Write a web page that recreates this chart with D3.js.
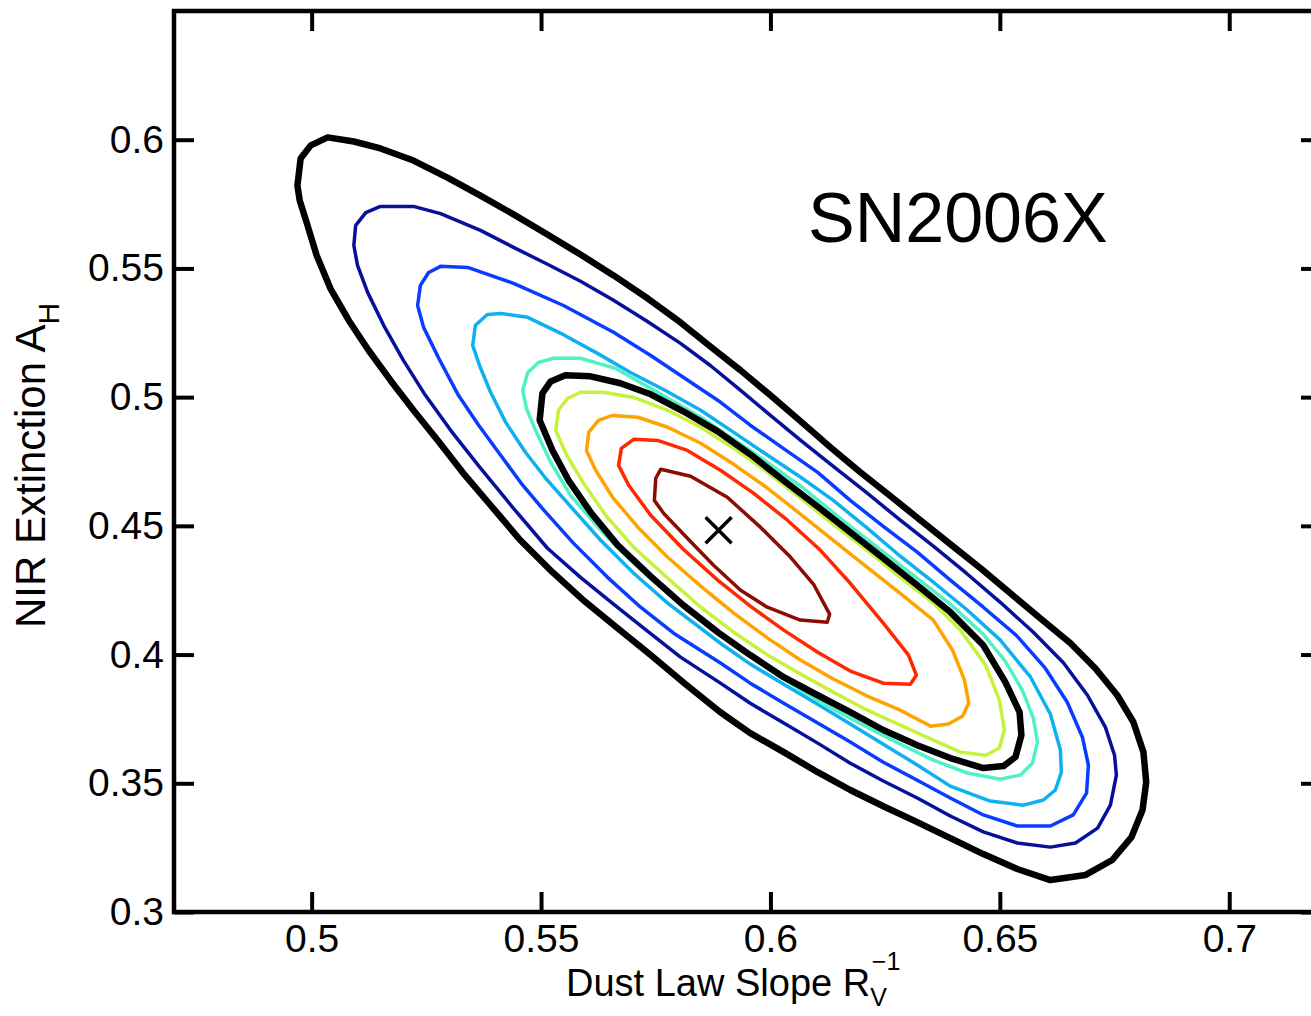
<!DOCTYPE html>
<html>
<head>
<meta charset="utf-8">
<script src="https://cdn.jsdelivr.net/npm/d3@7"></script>
<style>
  html, body { margin: 0; padding: 0; background: #fff; }
  svg text { font-family: "Liberation Sans", Arial, Helvetica, sans-serif; fill: #000; }
</style>
</head>
<body>
<svg id="chart" width="1311" height="1016"></svg>
<script>
// ---- ticks ----
const xTicks = [0.5, 0.55, 0.6, 0.65, 0.7];
const yTicks = [0.3, 0.35, 0.4, 0.45, 0.5, 0.55, 0.6];

// ---- best fit (cross) ----
const bestFit = [0.5887, 0.4483];

// ---- contour levels [R_V^-1, A_H], outer -> inner ----
const blackOuter = [
  [0.4969,0.5822],[0.4976,0.5927],[0.4998,0.5978],[0.5035,0.6009],[0.5092,0.5993],[0.5150,0.5966],
  [0.5222,0.5919],[0.5296,0.5853],[0.5368,0.5783],[0.5440,0.5710],[0.5514,0.5632],[0.5586,0.5554],
  [0.5658,0.5473],[0.5732,0.5384],[0.5804,0.5290],[0.5869,0.5197],[0.5935,0.5104],[0.6000,0.5007],
  [0.6066,0.4906],[0.6131,0.4805],[0.6196,0.4708],[0.6262,0.4615],[0.6327,0.4522],[0.6392,0.4429],
  [0.6458,0.4335],[0.6523,0.4238],[0.6588,0.4141],[0.6654,0.4044],[0.6708,0.3947],[0.6756,0.3842],
  [0.6791,0.3738],[0.6813,0.3621],[0.6819,0.3505],[0.6811,0.3396],[0.6787,0.3291],[0.6745,0.3202],
  [0.6687,0.3144],[0.6610,0.3124],[0.6538,0.3167],[0.6464,0.3225],[0.6392,0.3287],[0.6320,0.3349],
  [0.6246,0.3411],[0.6174,0.3474],[0.6103,0.3543],[0.6029,0.3621],[0.5956,0.3695],[0.5891,0.3776],
  [0.5815,0.3885],[0.5739,0.3998],[0.5667,0.4102],[0.5595,0.4207],[0.5525,0.4320],[0.5455,0.4444],
  [0.5390,0.4580],[0.5329,0.4708],[0.5275,0.4832],[0.5222,0.4949],[0.5172,0.5065],[0.5124,0.5182],
  [0.5081,0.5298],[0.5041,0.5422],[0.5011,0.5550],[0.4989,0.5679],[0.4974,0.5764]
];
const navyLevel = [
  [0.5092,0.5589],[0.5096,0.5667],[0.5118,0.5717],[0.5150,0.5741],[0.5222,0.5741],[0.5281,0.5713],
  [0.5368,0.5648],[0.5440,0.5582],[0.5514,0.5516],[0.5586,0.5450],[0.5658,0.5376],[0.5732,0.5294],
  [0.5804,0.5209],[0.5869,0.5123],[0.5935,0.5026],[0.6000,0.4929],[0.6066,0.4832],[0.6137,0.4731],
  [0.6211,0.4627],[0.6283,0.4522],[0.6355,0.4421],[0.6427,0.4316],[0.6501,0.4203],[0.6573,0.4087],
  [0.6639,0.3967],[0.6691,0.3842],[0.6730,0.3718],[0.6750,0.3609],[0.6754,0.3532],[0.6741,0.3415],
  [0.6713,0.3326],[0.6665,0.3268],[0.6610,0.3252],[0.6538,0.3268],[0.6464,0.3311],[0.6392,0.3373],
  [0.6320,0.3443],[0.6246,0.3509],[0.6174,0.3578],[0.6103,0.3656],[0.6029,0.3734],[0.5956,0.3811],
  [0.5891,0.3889],[0.5804,0.3990],[0.5732,0.4091],[0.5658,0.4196],[0.5586,0.4300],[0.5514,0.4413],
  [0.5440,0.4568],[0.5368,0.4724],[0.5303,0.4871],[0.5248,0.5007],[0.5200,0.5143],[0.5157,0.5279],
  [0.5122,0.5407],[0.5100,0.5512]
];
const blueLevel = [
  [0.5231,0.5356],[0.5237,0.5434],[0.5255,0.5484],[0.5281,0.5508],[0.5340,0.5504],[0.5440,0.5442],
  [0.5549,0.5356],[0.5658,0.5252],[0.5739,0.5162],[0.5810,0.5077],[0.5885,0.4988],[0.5956,0.4891],
  [0.6028,0.4801],[0.6103,0.4708],[0.6174,0.4599],[0.6246,0.4498],[0.6320,0.4398],[0.6392,0.4289],
  [0.6464,0.4184],[0.6538,0.4071],[0.6599,0.3947],[0.6647,0.3815],[0.6680,0.3679],[0.6693,0.3571],
  [0.6689,0.3462],[0.6660,0.3377],[0.6610,0.3334],[0.6538,0.3334],[0.6464,0.3377],[0.6392,0.3443],
  [0.6320,0.3512],[0.6246,0.3582],[0.6174,0.3660],[0.6103,0.3734],[0.6029,0.3811],[0.5956,0.3889],
  [0.5891,0.3967],[0.5789,0.4083],[0.5717,0.4184],[0.5645,0.4300],[0.5571,0.4432],[0.5506,0.4561],
  [0.5460,0.4658],[0.5412,0.4774],[0.5364,0.4891],[0.5320,0.5007],[0.5277,0.5151],[0.5244,0.5271]
];
const skyLevel = [
  [0.5351,0.5201],[0.5357,0.5279],[0.5383,0.5321],[0.5412,0.5325],[0.5471,0.5310],[0.5543,0.5248],
  [0.5623,0.5170],[0.5695,0.5096],[0.5771,0.5026],[0.5848,0.4949],[0.5920,0.4863],[0.5994,0.4774],
  [0.6066,0.4689],[0.6137,0.4599],[0.6211,0.4491],[0.6283,0.4382],[0.6355,0.4281],[0.6427,0.4176],
  [0.6501,0.4056],[0.6567,0.3912],[0.6610,0.3769],[0.6632,0.3629],[0.6634,0.3543],[0.6621,0.3474],
  [0.6595,0.3435],[0.6551,0.3415],[0.6479,0.3431],[0.6392,0.3489],[0.6320,0.3571],[0.6246,0.3652],
  [0.6174,0.3730],[0.6103,0.3807],[0.6029,0.3885],[0.5956,0.3963],[0.5891,0.4044],[0.5776,0.4200],
  [0.5702,0.4316],[0.5630,0.4444],[0.5558,0.4588],[0.5510,0.4685],[0.5466,0.4786],[0.5423,0.4902],
  [0.5390,0.5019],[0.5366,0.5123]
];
const aquaLevel = [
  [0.5460,0.5026],[0.5471,0.5096],[0.5495,0.5135],[0.5527,0.5151],[0.5586,0.5151],[0.5662,0.5112],
  [0.5739,0.5034],[0.5848,0.4922],[0.5956,0.4793],[0.6066,0.4654],[0.6174,0.4498],[0.6283,0.4347],
  [0.6392,0.4196],[0.6464,0.4079],[0.6512,0.3974],[0.6549,0.3862],[0.6573,0.3753],[0.6582,0.3660],
  [0.6571,0.3578],[0.6545,0.3532],[0.6501,0.3516],[0.6429,0.3540],[0.6355,0.3590],[0.6283,0.3652],
  [0.6211,0.3718],[0.6137,0.3788],[0.6066,0.3862],[0.5994,0.3947],[0.5920,0.4036],[0.5848,0.4134],
  [0.5776,0.4238],[0.5702,0.4355],[0.5630,0.4483],[0.5564,0.4619],[0.5521,0.4747],[0.5488,0.4871],
  [0.5468,0.4957]
];
const blackInner = [
  [0.5497,0.4910],[0.5503,0.5015],[0.5521,0.5061],[0.5553,0.5085],[0.5608,0.5081],[0.5673,0.5054],
  [0.5739,0.5011],[0.5810,0.4945],[0.5885,0.4867],[0.5956,0.4778],[0.6028,0.4677],[0.6102,0.4576],
  [0.6174,0.4475],[0.6246,0.4374],[0.6320,0.4269],[0.6392,0.4165],[0.6464,0.4036],[0.6512,0.3893],
  [0.6543,0.3776],[0.6547,0.3687],[0.6534,0.3602],[0.6508,0.3567],[0.6464,0.3559],[0.6392,0.3598],
  [0.6320,0.3648],[0.6246,0.3707],[0.6174,0.3776],[0.6103,0.3842],[0.6029,0.3912],[0.5956,0.3998],
  [0.5885,0.4087],[0.5810,0.4192],[0.5739,0.4304],[0.5667,0.4425],[0.5608,0.4553],[0.5560,0.4677],
  [0.5525,0.4793]
];
const yellowLevel = [
  [0.5532,0.4871],[0.5538,0.4949],[0.5558,0.4995],[0.5586,0.5019],[0.5636,0.5019],[0.5702,0.4999],
  [0.5776,0.4949],[0.5848,0.4883],[0.5920,0.4801],[0.5994,0.4708],[0.6066,0.4607],[0.6137,0.4506],
  [0.6211,0.4405],[0.6283,0.4300],[0.6355,0.4200],[0.6414,0.4095],[0.6469,0.3959],[0.6499,0.3823],
  [0.6510,0.3707],[0.6499,0.3637],[0.6469,0.3609],[0.6414,0.3621],[0.6355,0.3668],[0.6283,0.3726],
  [0.6211,0.3784],[0.6137,0.3854],[0.6066,0.3924],[0.5994,0.3998],[0.5920,0.4087],[0.5848,0.4184],
  [0.5776,0.4297],[0.5702,0.4417],[0.5641,0.4541],[0.5593,0.4665],[0.5556,0.4774]
];
const orangeLevel = [
  [0.5599,0.4793],[0.5604,0.4863],[0.5625,0.4910],[0.5656,0.4929],[0.5711,0.4922],[0.5776,0.4883],
  [0.5848,0.4821],[0.5920,0.4739],[0.5994,0.4646],[0.6066,0.4545],[0.6137,0.4444],[0.6211,0.4339],
  [0.6283,0.4238],[0.6355,0.4134],[0.6397,0.4017],[0.6423,0.3901],[0.6432,0.3811],[0.6419,0.3761],
  [0.6388,0.3730],[0.6349,0.3722],[0.6283,0.3784],[0.6211,0.3839],[0.6137,0.3905],[0.6066,0.3978],
  [0.5994,0.4064],[0.5920,0.4161],[0.5848,0.4266],[0.5776,0.4378],[0.5711,0.4495],[0.5656,0.4611],
  [0.5619,0.4716]
];
const redLevel = [
  [0.5669,0.4735],[0.5675,0.4801],[0.5702,0.4836],[0.5754,0.4832],[0.5819,0.4793],[0.5891,0.4716],
  [0.5963,0.4627],[0.6037,0.4522],[0.6109,0.4405],[0.6174,0.4277],[0.6246,0.4122],[0.6301,0.3998],
  [0.6318,0.3920],[0.6305,0.3885],[0.6246,0.3889],[0.6174,0.3936],[0.6103,0.4009],[0.6029,0.4095],
  [0.5956,0.4188],[0.5885,0.4289],[0.5810,0.4409],[0.5739,0.4541],[0.5691,0.4658]
];
const darkRedLevel = [
  [0.5747,0.4599],[0.5750,0.4685],[0.5761,0.4720],[0.5826,0.4693],[0.5906,0.4611],[0.5978,0.4495],
  [0.6044,0.4378],[0.6094,0.4273],[0.6129,0.4157],[0.6124,0.4126],[0.6065,0.4134],[0.5993,0.4184],
  [0.5935,0.4250],[0.5876,0.4347],[0.5819,0.4452],[0.5767,0.4549]
];

const levels = [
  { pts: navyLevel,    color: "#06109a", w: 3.5 },
  { pts: blueLevel,    color: "#0a3cff", w: 3.5 },
  { pts: skyLevel,     color: "#0fb0ef", w: 3.5 },
  { pts: aquaLevel,    color: "#4ff2c6", w: 3.5 },
  { pts: yellowLevel,  color: "#c6f23c", w: 3.5 },
  { pts: orangeLevel,  color: "#ffa300", w: 3.5 },
  { pts: redLevel,     color: "#ff2800", w: 3.5 },
  { pts: darkRedLevel, color: "#8c0c00", w: 3.5 },
  { pts: blackOuter,   color: "#000",    w: 6.5 },
  { pts: blackInner,   color: "#000",    w: 6.5 }
];

// ---- layout ----
const svg = d3.select("#chart");
const X0 = 174, X1 = 1321, Y0 = 11, Y1 = 912;
const TICK = 20;

const x = d3.scaleLinear().domain([0.47, 0.72]).range([X0, X1]);
const y = d3.scaleLinear().domain([0.3, 0.65]).range([Y1, Y0]);

// contours
const line = d3.line()
  .x(d => x(d[0]))
  .y(d => y(d[1]))
  .curve(d3.curveLinearClosed);

svg.append("g")
  .selectAll("path")
  .data(levels)
  .join("path")
    .attr("d", d => line(d.pts))
    .attr("fill", "none")
    .attr("stroke", d => d.color)
    .attr("stroke-width", d => d.w)
    .attr("stroke-linejoin", "round");

// best fit cross
const cs = 13;
const bx = x(bestFit[0]), by = y(bestFit[1]);
svg.append("path")
  .attr("d", `M${bx - cs},${by - cs}L${bx + cs},${by + cs}M${bx - cs},${by + cs}L${bx + cs},${by - cs}`)
  .attr("stroke", "#000")
  .attr("stroke-width", 3.5);

// ---- axes (ticks inside, box frame) ----
function styleAxis(g) {
  g.select(".domain").remove();
  g.selectAll(".tick line").attr("stroke", "#000").attr("stroke-width", 4);
  g.selectAll(".tick text").attr("font-size", 39).attr("fill", "#000")
    .attr("font-family", "Liberation Sans, Arial, sans-serif");
}

svg.append("g")
  .attr("transform", `translate(0,${Y1})`)
  .call(d3.axisBottom(x).tickValues(xTicks).tickSize(-TICK).tickPadding(12).tickFormat(d3.format("")))
  .call(styleAxis);

svg.append("g")
  .attr("transform", `translate(0,${Y0})`)
  .call(d3.axisTop(x).tickValues(xTicks).tickSize(-TICK).tickFormat(""))
  .call(styleAxis);

svg.append("g")
  .attr("transform", `translate(${X0},0)`)
  .call(d3.axisLeft(y).tickValues(yTicks).tickSize(-TICK).tickPadding(10).tickFormat(d3.format("")))
  .call(styleAxis);

svg.append("g")
  .attr("transform", `translate(${X1},0)`)
  .call(d3.axisRight(y).tickValues(yTicks).tickSize(-TICK).tickFormat(""))
  .call(styleAxis);

svg.append("rect")
  .attr("x", X0).attr("y", Y0)
  .attr("width", X1 - X0).attr("height", Y1 - Y0)
  .attr("fill", "none")
  .attr("stroke", "#000")
  .attr("stroke-width", 4.5);

// ---- labels ----
svg.append("text")
  .attr("x", 808).attr("y", 242)
  .attr("font-size", 70)
  .text("SN2006X");

const xl = svg.append("text")
  .attr("x", 566).attr("y", 996)
  .attr("font-size", 38);
xl.append("tspan").text("Dust Law Slope R");
xl.append("tspan").attr("font-size", 25).attr("dy", 10).text("V");
xl.append("tspan").attr("font-size", 25).attr("dx", -15).attr("dy", -36).text("\u22121");

const yl = svg.append("text")
  .attr("transform", "translate(45,628) rotate(-90)")
  .attr("font-size", 42);
yl.append("tspan").text("NIR Extinction A");
yl.append("tspan").attr("font-size", 30).attr("dy", 14).text("H");
</script>
</body>
</html>
